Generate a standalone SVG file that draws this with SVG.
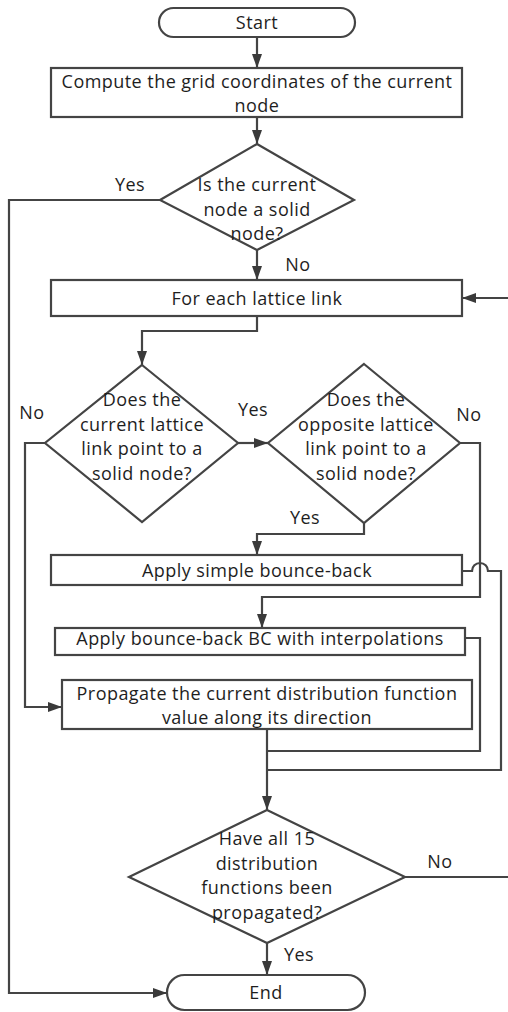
<svg xmlns="http://www.w3.org/2000/svg" width="508" height="1012" viewBox="0 0 508 1012">
<defs>
<marker id="ah" viewBox="0 0 14 10" refX="14" refY="5" markerWidth="14" markerHeight="11" markerUnits="userSpaceOnUse" orient="auto">
<path d="M0,0 L14,5 L0,10 Z" fill="#3a3a3a"/>
</marker>
<style>
.s{fill:#fff;stroke:#444;stroke-width:2.2}
.c{fill:none;stroke:#444;stroke-width:2.2}
.a{marker-end:url(#ah)}
text{font-family:"Open Sans","DejaVu Sans",sans-serif;font-size:18px;letter-spacing:0.45px;fill:#1e1e1e;text-anchor:middle}
</style>
</defs>
<rect width="508" height="1012" fill="#fff"/>
<g id="connectors">
<path class="c a" d="M257,37 V68"/>
<path class="c a" d="M257,117 V144"/>
<path class="c a" d="M160,200 H9 V993 H167"/>
<path class="c a" d="M257,250 V280"/>
<path class="c a" d="M508,298 H462"/>
<path class="c a" d="M257,316 V331 H142 V365"/>
<path class="c a" d="M238,443 H268"/>
<path class="c a" d="M45,443 H25 V707 H62"/>
<path class="c a" d="M460,443 H480 V597 H262 V628"/>
<path class="c a" d="M364,523 V534 H257 V555"/>
<path class="c" d="M462,571 H472 A8,8 0 0 1 488,571 H501 V770 H267"/>
<path class="c" d="M465,638 H480 V751 H267"/>
<path class="c a" d="M267,729 V810"/>
<path class="c" d="M405,877 H508"/>
<path class="c a" d="M267,943 V975"/>
</g>
<g id="start"><rect class="s" x="159" y="8" width="196" height="29" rx="14.5"/><text x="257" y="29">Start</text></g>
<g id="compute"><rect class="s" x="51" y="68" width="411" height="49"/><text><tspan x="257" y="87.5">Compute the grid coordinates of the current</tspan><tspan x="257" y="112">node</tspan></text></g>
<g id="solid"><polygon class="s" points="257,144 354,200 257,250 160,200"/><text><tspan x="257" y="191">Is the current</tspan><tspan x="257" y="215.5">node a solid</tspan><tspan x="257" y="240">node?</tspan></text></g>
<g id="foreach"><rect class="s" x="51" y="280" width="411" height="36"/><text x="257" y="304.5">For each lattice link</text></g>
<g id="current"><polygon class="s" points="142,365 238,443 142,522 45,443"/><text><tspan x="142" y="406">Does the</tspan><tspan x="142" y="430.5">current lattice</tspan><tspan x="142" y="455">link point to a</tspan><tspan x="142" y="479.5">solid node?</tspan></text></g>
<g id="opposite"><polygon class="s" points="364,364 460,443 364,523 268,443"/><text><tspan x="366" y="406">Does the</tspan><tspan x="366" y="430.5">opposite lattice</tspan><tspan x="366" y="455">link point to a</tspan><tspan x="366" y="479.5">solid node?</tspan></text></g>
<g id="simple"><rect class="s" x="51" y="555" width="411" height="30"/><text x="257" y="576.5">Apply simple bounce-back</text></g>
<g id="bc"><rect class="s" x="55" y="628" width="410" height="27"/><text x="260" y="644.5">Apply bounce-back BC with interpolations</text></g>
<g id="propagate"><rect class="s" x="62" y="680" width="410" height="49"/><text><tspan x="267" y="699.5">Propagate the current distribution function</tspan><tspan x="267" y="724">value along its direction</tspan></text></g>
<g id="all15"><polygon class="s" points="267,810 405,877 267,943 129,877"/><text><tspan x="267" y="845">Have all 15</tspan><tspan x="267" y="869.5">distribution</tspan><tspan x="267" y="894">functions been</tspan><tspan x="267" y="918.5">propagated?</tspan></text></g>
<g id="end"><rect class="s" x="167" y="975" width="198" height="35" rx="17.5"/><text x="266" y="998.5">End</text></g>
<g id="labels">
<text x="130" y="191">Yes</text>
<text x="298" y="271">No</text>
<text x="32" y="419">No</text>
<text x="253" y="416">Yes</text>
<text x="469" y="421">No</text>
<text x="305" y="524">Yes</text>
<text x="440" y="868">No</text>
<text x="299" y="961">Yes</text>
</g>
</svg>
